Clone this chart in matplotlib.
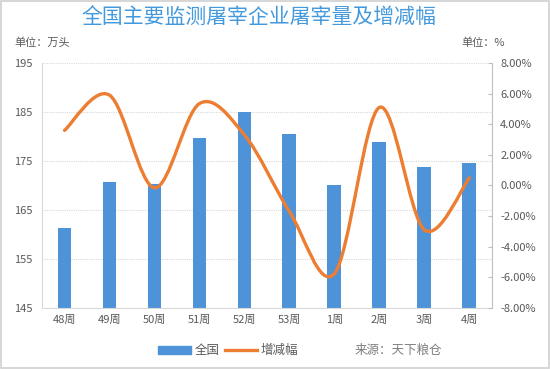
import matplotlib

matplotlib.use("Agg")

import matplotlib.pyplot as plt
import numpy as np
from matplotlib.path import Path
from matplotlib.patches import PathPatch, Rectangle
from matplotlib.lines import Line2D
from matplotlib.ticker import FuncFormatter

plt.rcParams["font.family"] = ["Noto Sans CJK SC", "DejaVu Sans"]

weeks = ["48周", "49周", "50周", "51周", "52周", "53周", "1周", "2周", "3周", "4周"]
slaughter = [161.3, 170.8, 170.3, 179.6, 184.9, 180.6, 170.2, 178.8, 173.7, 174.5]
change_pct = [3.6, 5.9, -0.15, 5.35, 3.3, -1.7, -5.75, 5.1, -2.9, 0.5]

BAR_BLUE = "#4e92d8"
LINE_ORANGE = "#ed7d31"
TEXT_GRAY = "#595959"
GRID_GRAY = "#d9d9d9"


def smooth_path(x, y, tension=1 / 6):
    # Excel-like smoothed line: Catmull-Rom segments as cubic beziers
    x = np.asarray(x, float)
    y = np.asarray(y, float)
    n = len(x)
    verts = [(x[0], y[0])]
    codes = [Path.MOVETO]
    for i in range(n - 1):
        p0 = i - 1 if i > 0 else i
        p3 = i + 2 if i + 2 < n else i + 1
        c1 = (x[i] + (x[i + 1] - x[p0]) * tension, y[i] + (y[i + 1] - y[p0]) * tension)
        c2 = (x[i + 1] - (x[p3] - x[i]) * tension, y[i + 1] - (y[p3] - y[i]) * tension)
        verts += [c1, c2, (x[i + 1], y[i + 1])]
        codes += [Path.CURVE4] * 3
    return Path(verts, codes)


fig = plt.figure(figsize=(5.5, 3.69), dpi=100)
ax = fig.add_axes([0.0764, 0.1653, 0.818, 0.6640])
xs = np.arange(len(weeks))

ax.bar(xs, slaughter, width=0.31, color=BAR_BLUE, zorder=2)
ax.set_xlim(-0.5, len(weeks) - 0.5)
ax.set_ylim(145, 195)
ax.set_yticks(np.arange(145, 196, 10))
ax.set_xticks(xs)
ax.set_xticklabels(weeks)
ax.yaxis.grid(True, linestyle=(0, (1, 1)), color=GRID_GRAY, linewidth=0.8, zorder=0)
ax.tick_params(axis="both", length=0, labelsize=8, colors=TEXT_GRAY)
ax.tick_params(axis="y", pad=7)
ax.tick_params(axis="x", pad=5)
for side in ["left", "bottom"]:
    ax.spines[side].set_color(GRID_GRAY)
ax.spines["top"].set_visible(False)
ax.spines["right"].set_visible(False)

ax2 = ax.twinx()
ax2.set_ylim(-8, 8)
ax2.set_yticks(np.arange(-8, 8.1, 2))
ax2.yaxis.set_major_formatter(FuncFormatter(lambda v, _: f"{v:.2f}%"))
ax2.tick_params(axis="y", direction="in", length=3, labelsize=8, pad=6,
                colors="#bfbfbf", labelcolor=TEXT_GRAY)
ax2.spines["right"].set_color("#bfbfbf")
for side in ["left", "top", "bottom"]:
    ax2.spines[side].set_visible(False)
ax2.add_patch(PathPatch(smooth_path(xs, change_pct), facecolor="none", edgecolor=LINE_ORANGE,
                        linewidth=2.4, capstyle="round", zorder=3))

fig.text(0.471, 0.953, "全国主要监测屠宰企业屠宰量及增减幅", ha="center", va="center",
         fontsize=15, fontweight="medium", color="#4499dd")
fig.text(0.027, 0.885, "单位：万头", ha="left", va="center", fontsize=8, color=TEXT_GRAY)
fig.text(0.918, 0.885, "单位：%", ha="right", va="center", fontsize=8, color=TEXT_GRAY)

handles = [Rectangle((0, 0), 1, 1, color=BAR_BLUE),
           Line2D([0], [0], color=LINE_ORANGE, linewidth=2.4)]
fig.legend(handles, ["全国", "增减幅"], loc="center", bbox_to_anchor=(0.415, 0.05), ncol=2,
           frameon=False, fontsize=9, handlelength=2.6, handleheight=0.6, columnspacing=0.4,
           handletextpad=0.3, labelcolor=TEXT_GRAY)
fig.text(0.645, 0.05, "来源：天下粮仓", ha="left", va="center", fontsize=9,
         style="italic", color="#7f7f7f")

fig.patches.append(Rectangle((0.002, 0.003), 0.996, 0.994, transform=fig.transFigure,
                             fill=False, edgecolor="#d0d0d0", linewidth=1.2))

fig.savefig("out.png", dpi=100)
